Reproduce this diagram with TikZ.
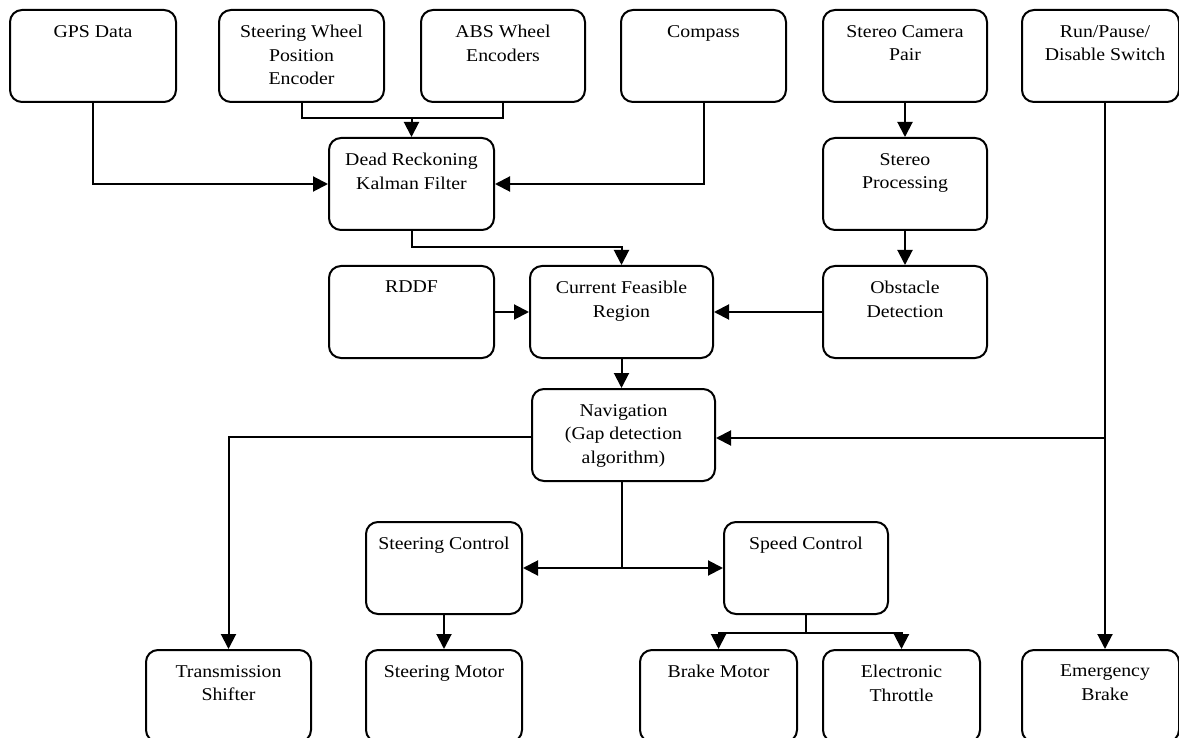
\documentclass[tikz,border=0pt]{standalone}
\usepackage{fontspec}
\setmainfont{Liberation Serif}[FakeStretch=1.1]
\usetikzlibrary{arrows.meta,calc}
\tikzset{
  box/.style={draw, line width=2pt, rounded corners=12pt, anchor=north west, inner sep=0pt},
  lbl/.style={anchor=north, inner sep=0pt, align=center, font=\fontsize{18}{23.5}\selectfont},
  arr/.style={-{Triangle[length=15pt,width=15pt]}, line width=2pt},
  ln/.style={line width=2pt}
}
\newcommand\mybox[6]{%
  \node[box, minimum width={(#4)-(#2)}, minimum height={(#5)-(#3)}] (#1) at (#2,#3) {};
  \node[lbl] (#1-t) at ([yshift=-16pt]#1.north) {#6};}
\begin{document}
\begin{tikzpicture}[x=1pt,y=-1pt]
\useasboundingbox (0,0) rectangle (1179,738);
\mybox{gps}{9}{9}{175}{101}{GPS Data}
\mybox{swpe}{218}{9}{383}{101}{Steering Wheel\\Position\\Encoder}
\mybox{abs}{420}{9}{584}{101}{ABS Wheel\\Encoders}
\mybox{comp}{620}{9}{785}{101}{Compass}
\mybox{cam}{822}{9}{986}{101}{Stereo Camera\\Pair}
\node[box, minimum width=157, minimum height=92] (run) at (1021,9) {};
\node[lbl] (run-t) at (1105,25) {Run/Pause/\\Disable Switch};
\mybox{dr}{328}{137}{493}{229}{Dead Reckoning\\Kalman Filter}
\mybox{sp}{822}{137}{986}{229}{Stereo\\Processing}
\mybox{rddf}{328}{265}{493}{357}{RDDF}
\mybox{cfr}{529}{265}{712}{357}{Current Feasible\\Region}
\mybox{obs}{822}{265}{986}{357}{Obstacle\\Detection}
\mybox{nav}{531}{388}{714}{480}{Navigation\\(Gap detection\\algorithm)}
\mybox{sc}{365}{521}{521}{613}{Steering Control}
\mybox{spc}{723}{521}{887}{613}{Speed Control}
\mybox{ts}{145}{649}{310}{741}{Transmission\\Shifter}
\mybox{sm}{365}{649}{521}{741}{Steering Motor}
\mybox{bm}{639}{649}{796}{741}{Brake Motor}
\mybox{et}{822}{649}{979}{741}{Electronic\\Throttle}
\node[box, minimum width=157, minimum height=92] (eb) at (1021,649) {};
\node[lbl] (eb-t) at (1105,665) {Emergency\\Brake};
% connectors
\coordinate (j1) at (410,118);
\coordinate (rx) at (1105,0);
\draw[arr] (gps.south) |- (dr.west);
\draw[arr] (comp.south) |- (dr.east);
\draw[ln] (swpe.south) |- (abs.south |- j1) -- (abs.south);
\draw[arr] (dr.north |- j1) -- (dr.north);
\draw[arr] (dr.south) |- ($(cfr.north)+(0,-18)$) -- (cfr.north);
\draw[arr] (rddf.east) -- (cfr.west);
\draw[arr] (obs.west) -- (cfr.east);
\draw[arr] (cam.south) -- (sp.north);
\draw[arr] (sp.south) -- (obs.north);
\draw[arr] (cfr.south) -- (cfr.south |- nav.north);
\draw[arr] (run.south -| rx) -- (eb.north -| rx);
\draw[arr] ($(nav.east -| rx)+(0,3)$) -- ($(nav.east)+(0,3)$);
\draw[arr] ($(nav.west)+(0,2)$) -| (ts.north);
\coordinate (j2) at ($(nav.south)+(-2,0)$);
\draw[ln] (j2) -- (j2 |- sc.east);
\draw[arr] (j2 |- sc.east) -- (sc.east);
\draw[arr] (j2 |- sc.east) -- (spc.west);
\draw[arr] (sc.south) -- (sm.north);
\draw[ln] (spc.south) -- ++(0,18) coordinate (j3);
\draw[arr] (j3) -| (bm.north);
\draw[arr] (j3) -| (et.north);
\end{tikzpicture}
\end{document}
